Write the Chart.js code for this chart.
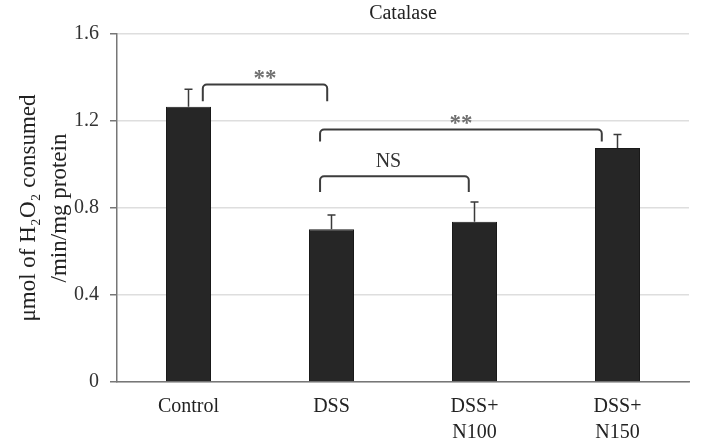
<!DOCTYPE html>
<html>
<head>
<meta charset="utf-8">
<script src="https://cdn.jsdelivr.net/npm/chart.js@4.4.0/dist/chart.umd.min.js"></script>
<style>
  html, body { margin: 0; padding: 0; background: #fff; }
  #wrap { width: 706px; height: 442px; }
</style>
</head>
<body>
<div id="wrap"><canvas id="catalaseChart"></canvas></div>
<script>
// data
const groups = [['Control'], ['DSS'], ['DSS+', 'N100'], ['DSS+', 'N150']];
const catalase = [1.265, 0.702, 0.737, 1.076];
const errTop = [1.346, 0.768, 0.828, 1.138];
const yTicks = [0, 0.4, 0.8, 1.2, 1.6];

// significance brackets: from/to category position, top value, leg end value, label
const bracketFrom = [0.1, 0.92, 0.92];
const bracketTo = [0.97, 2.89, 1.96];
const bracketTop = [1.368, 1.161, 0.946];
const bracketLeg = [1.291, 1.106, 0.873];
const bracketText = ['**', '**', 'NS'];

const serif = '"Liberation Serif", "Times New Roman", serif';

const errorBars = {
    id: 'errorBars',
    afterDatasetsDraw(chart) {
        const ctx = chart.ctx;
        const y = chart.scales.y;
        const meta = chart.getDatasetMeta(0);
        ctx.save();
        ctx.strokeStyle = '#3a3a3a';
        ctx.lineWidth = 1.5;
        meta.data.forEach((bar, i) => {
            const top = y.getPixelForValue(errTop[i]);
            const base = y.getPixelForValue(catalase[i]);
            ctx.beginPath();
            ctx.moveTo(bar.x, base);
            ctx.lineTo(bar.x, top);
            ctx.moveTo(bar.x - 4, top);
            ctx.lineTo(bar.x + 4, top);
            ctx.stroke();
        });
        ctx.restore();
    }
};

const brackets = {
    id: 'brackets',
    afterDraw(chart) {
        const ctx = chart.ctx;
        const x = chart.scales.x;
        const y = chart.scales.y;
        ctx.save();
        ctx.strokeStyle = '#3c3c3c';
        ctx.lineWidth = 2;
        ctx.lineJoin = 'round';
        bracketText.forEach((label, i) => {
            const x1 = x.getPixelForValue(bracketFrom[i]);
            const x2 = x.getPixelForValue(bracketTo[i]);
            const yt = y.getPixelForValue(bracketTop[i]);
            const yl = y.getPixelForValue(bracketLeg[i]);
            const r = 4;
            ctx.beginPath();
            ctx.moveTo(x1, yl);
            ctx.lineTo(x1, yt + r);
            ctx.arcTo(x1, yt, x1 + r, yt, r);
            ctx.lineTo(x2 - r, yt);
            ctx.arcTo(x2, yt, x2, yt + r, r);
            ctx.lineTo(x2, yl);
            ctx.stroke();

            ctx.textAlign = 'center';
            ctx.textBaseline = 'alphabetic';
            if (label === 'NS') {
                ctx.fillStyle = '#333';
                ctx.font = '20px ' + serif;
                ctx.fillText(label, (x1 + x2) / 2 - 6, yt - 9);
            } else {
                ctx.fillStyle = '#707070';
                ctx.font = 'bold 23px ' + serif;
                ctx.fillText(label, (x1 + x2) / 2, yt + 1);
            }
        });
        ctx.restore();
    }
};

new Chart(document.getElementById('catalaseChart'), {
    type: 'bar',
    data: {
        labels: groups,
        datasets: [{
            data: catalase,
            backgroundColor: '#262626',
            borderColor: '#1a1a1a',
            borderWidth: 1,
            barPercentage: 0.63,
            categoryPercentage: 0.5
        }]
    },
    options: {
        responsive: true,
        maintainAspectRatio: false,
        animation: false,
        layout: { padding: { left: 0, right: 17, top: 0, bottom: 0 } },
        plugins: {
            legend: { display: false },
            tooltip: { enabled: false },
            title: {
                display: true,
                fullSize: false,
                text: 'Catalase',
                color: '#222',
                font: { family: serif, size: 20, weight: 'normal' },
                padding: { top: 2, bottom: 8 }
            }
        },
        scales: {
            x: {
                grid: { display: false, drawTicks: false },
                border: { color: '#777', width: 1.5 },
                ticks: {
                    color: '#222',
                    font: { family: serif, size: 20, lineHeight: 1.3 },
                    padding: 12,
                    maxRotation: 0,
                    autoSkip: false
                },
                afterFit(scale) { scale.height = 60; }
            },
            y: {
                min: 0,
                max: 1.6,
                afterBuildTicks(scale) { scale.ticks = yTicks.map(v => ({ value: v })); },
                grid: { color: '#dedede', tickColor: '#777', tickLength: 7, lineWidth: 1.5 },
                border: { color: '#777', width: 1.5 },
                ticks: {
                    color: '#333',
                    font: { family: serif, size: 20 },
                    padding: 11,
                    callback: v => v === 0 ? '0' : v.toFixed(1)
                },
                title: {
                    display: true,
                    text: ['\u03bcmol of H\u2082O\u2082 consumed', '/min/mg protein'],
                    color: '#222',
                    font: { family: serif, size: 23, lineHeight: 1.35 },
                    padding: { top: 13, bottom: 0 }
                },
                afterFit(scale) { scale.width = 117; }
            }
        }
    },
    plugins: [errorBars, brackets]
});
</script>
</body>
</html>
